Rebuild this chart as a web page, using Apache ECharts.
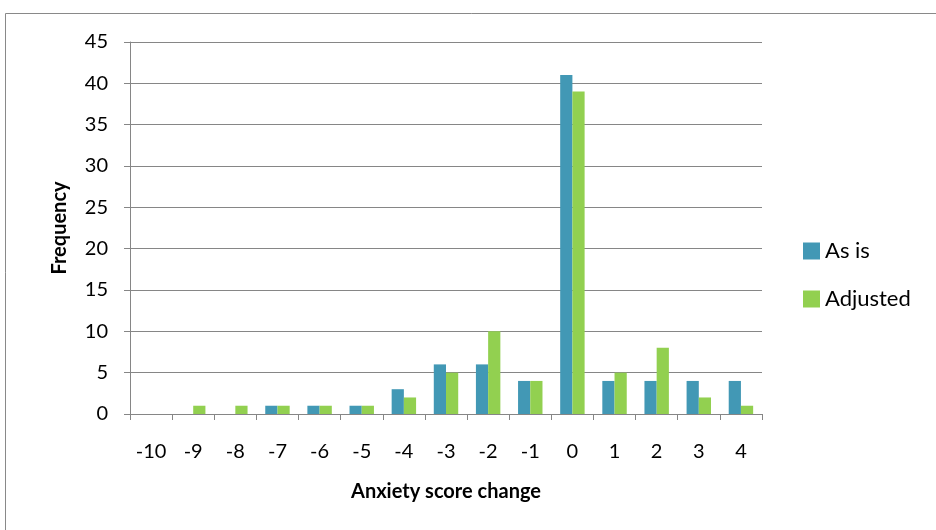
<!DOCTYPE html>
<html>
<head>
<meta charset="utf-8">
<script src="https://cdn.jsdelivr.net/npm/echarts@6/dist/echarts.min.js"></script>
<style>
  html, body { margin: 0; padding: 0; background: #fff; }
  #chart { width: 936px; height: 530px; }
</style>
</head>
<body>
<div id="chart"></div>
<script>
// Score-change histogram: frequency of each change value
const categories = ['-10', '-9', '-8', '-7', '-6', '-5', '-4', '-3', '-2', '-1', '0', '1', '2', '3', '4'];
const asIs     = [0, 0, 0, 1, 1, 1, 3, 6, 6, 4, 41, 4, 4, 4, 4];
const adjusted = [0, 1, 1, 1, 1, 1, 2, 5, 10, 4, 39, 5, 8, 2, 1];
const seriesNames = ['As is', 'Adjusted'];

const FONT = 'Lato, "Open Sans", "Liberation Sans", sans-serif';
const axisGray = '#868686';

const chart = echarts.init(document.getElementById('chart'), null, { renderer: 'canvas' });
chart.setOption({
  animation: false,
  backgroundColor: '#fff',
  textStyle: { fontFamily: FONT },
  graphic: [{
    type: 'rect',
    shape: { x: 5.5, y: 13.5, width: 960, height: 560 },
    style: { fill: 'none', stroke: '#898989', lineWidth: 1 },
    silent: true
  }],
  grid: { left: 130, right: 174, top: 42, bottom: 116, containLabel: false },
  legend: {
    orient: 'vertical',
    left: 798,
    top: 235,
    itemWidth: 17,
    itemHeight: 17,
    itemGap: 26,
    icon: 'rect',
    textStyle: { fontSize: 22, color: '#000', fontFamily: FONT, padding: [0, 0, 0, 0] },
    data: seriesNames
  },
  xAxis: {
    type: 'category',
    data: categories,
    name: 'Anxiety score change',
    nameLocation: 'middle',
    nameGap: 68,
    nameTextStyle: { fontSize: 20, fontWeight: 'bold', color: '#000', fontFamily: FONT },
    axisLine: { lineStyle: { color: axisGray, width: 1 } },
    axisTick: { show: true, length: 6, alignWithLabel: false, lineStyle: { color: axisGray } },
    axisLabel: { fontSize: 20, color: '#000', margin: 28, interval: 0, fontFamily: FONT },
    splitLine: { show: false }
  },
  yAxis: {
    type: 'value',
    min: 0,
    max: 45,
    interval: 5,
    name: 'Frequency',
    nameLocation: 'middle',
    nameGap: 60,
    nameRotate: 90,
    nameTextStyle: { fontSize: 20, fontWeight: 'bold', color: '#000', fontFamily: FONT },
    axisLine: { show: true, lineStyle: { color: axisGray, width: 1 } },
    axisTick: { show: true, length: 6, lineStyle: { color: axisGray } },
    axisLabel: { fontSize: 20, color: '#000', margin: 22, fontFamily: FONT },
    splitLine: { show: true, lineStyle: { color: axisGray, width: 1 } }
  },
  series: [
    {
      name: seriesNames[0],
      type: 'bar',
      data: asIs,
      barGap: '0%',
      barCategoryGap: '42%',
      itemStyle: { color: '#4298B5' }
    },
    {
      name: seriesNames[1],
      type: 'bar',
      data: adjusted,
      barGap: '0%',
      barCategoryGap: '42%',
      itemStyle: { color: '#92D050' }
    }
  ]
});
</script>
</body>
</html>
